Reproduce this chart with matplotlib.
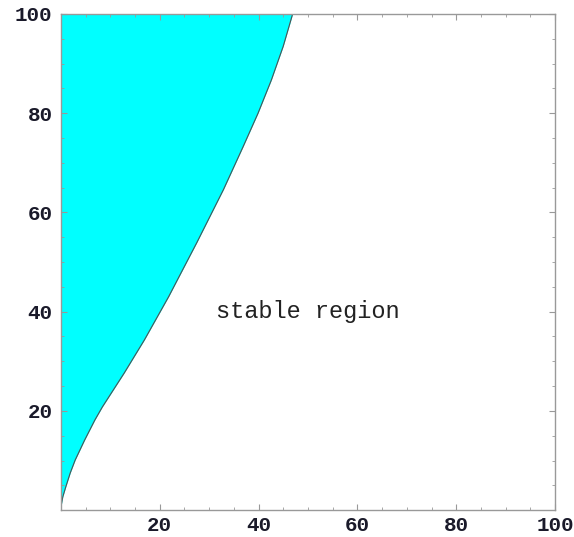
# stability boundary plot: shaded unstable area left of the curve
import matplotlib
matplotlib.use("Agg")
import matplotlib.pyplot as plt
from matplotlib.ticker import MultipleLocator

# boundary (y value, x value on the curve)
boundary_y = [0, 1.1, 2.7, 4.7, 7.5, 10.1, 14.1, 18.2, 20.8, 27.6, 34.3, 43.0,
              53.9, 64.6, 73.3, 80.0, 86.7, 93.5, 100]
boundary_x = [0, 0.1, 0.4, 1.0, 1.9, 2.9, 4.8, 6.9, 8.4, 12.8, 16.9, 21.8,
              27.5, 32.9, 36.9, 39.9, 42.6, 45.0, 46.9]

major_ticks = [20, 40, 60, 80, 100]
label_text = "stable region"
label_pos = (50, 40)

fig = plt.figure(figsize=(5.74, 5.37), dpi=100)
ax = fig.add_axes([0.106, 0.050, 0.861, 0.924])

ax.fill_betweenx(boundary_y, 0, boundary_x, color="#00ffff", linewidth=0)
ax.plot(boundary_x, boundary_y, color="#505050", linewidth=0.8)

ax.text(label_pos[0], label_pos[1], label_text, family="Liberation Mono",
        fontsize=17, ha="center", va="center", color="#222222")

ax.set_xlim(0, 100)
ax.set_ylim(0, 100)
ax.set_xticks(major_ticks)
ax.set_yticks(major_ticks)
ax.xaxis.set_minor_locator(MultipleLocator(5))
ax.yaxis.set_minor_locator(MultipleLocator(5))

for lbl in ax.get_xticklabels() + ax.get_yticklabels():
    lbl.set_family("Liberation Mono")
    lbl.set_fontweight("bold")
    lbl.set_fontsize(15)
    lbl.set_color("#1a1a2a")

ax.tick_params(which="both", direction="in", top=True, right=True, color="#999999")
ax.tick_params(which="major", length=4, width=0.8)
ax.tick_params(axis="x", which="major", pad=4)
ax.tick_params(axis="y", which="major", pad=6)
ax.tick_params(which="minor", length=2, width=0.6)

for s in ax.spines.values():
    s.set_color("#999999")
    s.set_linewidth(1.0)

fig.savefig("out.png", dpi=100)
